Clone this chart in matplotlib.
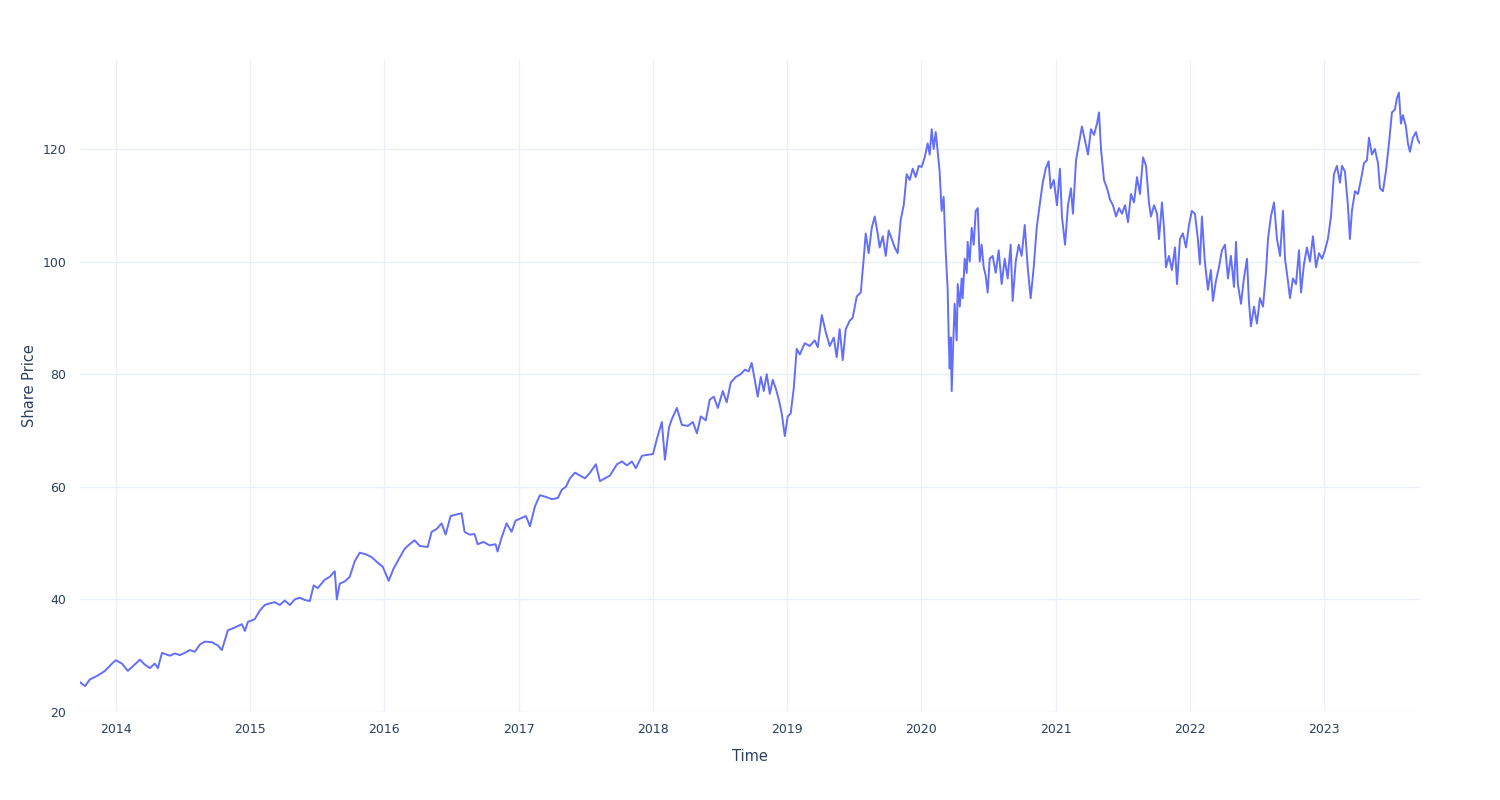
import pandas as pd
import matplotlib
matplotlib.use("Agg")
from matplotlib import pyplot as plt
import matplotlib.dates as mdates

# time as decimal years
years = [
    2013.732, 2013.769, 2013.806, 2013.866, 2013.918, 2013.970, 2014.000, 2014.045, 2014.089, 2014.134,
    2014.179, 2014.216, 2014.253, 2014.290, 2014.313, 2014.343, 2014.402, 2014.439, 2014.477, 2014.521,
    2014.551, 2014.588, 2014.626, 2014.663, 2014.715, 2014.760, 2014.789, 2014.834, 2014.886, 2014.938,
    2014.961, 2014.983, 2015.035, 2015.072, 2015.109, 2015.147, 2015.184, 2015.221, 2015.258, 2015.296,
    2015.333, 2015.370, 2015.407, 2015.445, 2015.474, 2015.504, 2015.556, 2015.593, 2015.631, 2015.646,
    2015.668, 2015.706, 2015.742, 2015.780, 2015.817, 2015.862, 2015.906, 2015.951, 2015.988, 2016.033,
    2016.070, 2016.100, 2016.152, 2016.189, 2016.226, 2016.264, 2016.323, 2016.353, 2016.390, 2016.427,
    2016.457, 2016.494, 2016.524, 2016.576, 2016.598, 2016.635, 2016.673, 2016.695, 2016.740, 2016.784,
    2016.829, 2016.844, 2016.874, 2016.911, 2016.948, 2016.978, 2017.023, 2017.053, 2017.083, 2017.120,
    2017.157, 2017.202, 2017.246, 2017.291, 2017.321, 2017.351, 2017.381, 2017.418, 2017.455, 2017.493,
    2017.530, 2017.574, 2017.604, 2017.641, 2017.679, 2017.731, 2017.768, 2017.805, 2017.842, 2017.872,
    2017.917, 2017.962, 2017.999, 2018.029, 2018.066, 2018.089, 2018.119, 2018.140, 2018.178, 2018.215,
    2018.260, 2018.297, 2018.327, 2018.356, 2018.393, 2018.423, 2018.453, 2018.483, 2018.520, 2018.549,
    2018.579, 2018.616, 2018.654, 2018.684, 2018.713, 2018.735, 2018.758, 2018.780, 2018.803, 2018.825,
    2018.847, 2018.870, 2018.892, 2018.914, 2018.937, 2018.959, 2018.982, 2019.004, 2019.026, 2019.049,
    2019.071, 2019.094, 2019.131, 2019.168, 2019.205, 2019.228, 2019.258, 2019.287, 2019.317, 2019.347,
    2019.369, 2019.391, 2019.414, 2019.436, 2019.466, 2019.488, 2019.518, 2019.548, 2019.570, 2019.585,
    2019.607, 2019.630, 2019.652, 2019.674, 2019.689, 2019.712, 2019.734, 2019.756, 2019.779, 2019.801,
    2019.823, 2019.846, 2019.868, 2019.890, 2019.913, 2019.935, 2019.957, 2019.980, 2020.002, 2020.025,
    2020.047, 2020.062, 2020.077, 2020.092, 2020.107, 2020.122, 2020.136, 2020.151, 2020.166, 2020.181,
    2020.196, 2020.204, 2020.211, 2020.219, 2020.226, 2020.241, 2020.248, 2020.263, 2020.271, 2020.286,
    2020.300, 2020.308, 2020.323, 2020.338, 2020.345, 2020.360, 2020.375, 2020.390, 2020.405, 2020.420,
    2020.435, 2020.449, 2020.464, 2020.479, 2020.494, 2020.509, 2020.531, 2020.554, 2020.576, 2020.598,
    2020.621, 2020.643, 2020.665, 2020.680, 2020.703, 2020.725, 2020.747, 2020.770, 2020.792, 2020.814,
    2020.837, 2020.859, 2020.881, 2020.904, 2020.926, 2020.948, 2020.963, 2020.986, 2021.008, 2021.030,
    2021.045, 2021.068, 2021.090, 2021.112, 2021.127, 2021.150, 2021.172, 2021.194, 2021.217, 2021.239,
    2021.261, 2021.284, 2021.306, 2021.321, 2021.336, 2021.358, 2021.381, 2021.403, 2021.425, 2021.448,
    2021.470, 2021.492, 2021.515, 2021.537, 2021.559, 2021.582, 2021.604, 2021.626, 2021.649, 2021.671,
    2021.693, 2021.708, 2021.731, 2021.753, 2021.768, 2021.790, 2021.805, 2021.820, 2021.842, 2021.864,
    2021.887, 2021.902, 2021.924, 2021.946, 2021.969, 2021.991, 2022.013, 2022.036, 2022.058, 2022.073,
    2022.088, 2022.110, 2022.133, 2022.155, 2022.170, 2022.192, 2022.215, 2022.237, 2022.260, 2022.282,
    2022.304, 2022.327, 2022.342, 2022.356, 2022.379, 2022.401, 2022.424, 2022.438, 2022.453, 2022.476,
    2022.498, 2022.520, 2022.543, 2022.565, 2022.580, 2022.602, 2022.625, 2022.647, 2022.670, 2022.692,
    2022.707, 2022.729, 2022.744, 2022.766, 2022.789, 2022.811, 2022.826, 2022.848, 2022.870, 2022.893,
    2022.915, 2022.938, 2022.960, 2022.983, 2023.005, 2023.027, 2023.050, 2023.072, 2023.094, 2023.117,
    2023.132, 2023.154, 2023.176, 2023.191, 2023.206, 2023.229, 2023.251, 2023.273, 2023.296, 2023.318,
    2023.333, 2023.355, 2023.377, 2023.400, 2023.415, 2023.437, 2023.459, 2023.482, 2023.504, 2023.526,
    2023.541, 2023.556, 2023.571, 2023.586, 2023.608, 2023.623, 2023.638, 2023.660, 2023.683, 2023.698,
    2023.713,
]

price = [
    25.3, 24.6, 25.8, 26.5, 27.3, 28.6, 29.2, 28.6, 27.3, 28.3,
    29.3, 28.4, 27.8, 28.6, 27.8, 30.5, 30.0, 30.4, 30.1, 30.6,
    31.0, 30.7, 32.0, 32.5, 32.4, 31.8, 31.0, 34.5, 35.0, 35.6,
    34.4, 36.0, 36.5, 38.0, 39.0, 39.3, 39.5, 39.0, 39.8, 39.0,
    40.0, 40.3, 39.9, 39.7, 42.5, 42.0, 43.5, 44.0, 45.0, 40.0,
    42.8, 43.2, 44.0, 46.8, 48.3, 48.0, 47.5, 46.5, 45.8, 43.3,
    45.5, 46.8, 49.0, 49.8, 50.5, 49.5, 49.3, 52.0, 52.5, 53.5,
    51.5, 54.8, 55.0, 55.3, 52.0, 51.5, 51.6, 49.8, 50.2, 49.6,
    49.8, 48.5, 51.0, 53.5, 52.0, 54.0, 54.5, 54.8, 53.0, 56.5,
    58.5, 58.2, 57.8, 58.0, 59.5, 60.0, 61.5, 62.5, 62.0, 61.5,
    62.5, 64.0, 61.0, 61.5, 62.0, 64.0, 64.5, 63.8, 64.5, 63.3,
    65.5, 65.7, 65.8, 68.5, 71.5, 64.8, 70.5, 72.0, 74.0, 71.0,
    70.8, 71.5, 69.5, 72.5, 71.8, 75.5, 76.0, 74.0, 77.0, 75.0,
    78.5, 79.5, 80.0, 80.8, 80.5, 82.0, 79.0, 76.0, 79.5, 77.0,
    80.0, 76.5, 79.0, 77.5, 75.5, 73.0, 69.0, 72.5, 73.0, 77.5,
    84.5, 83.5, 85.5, 85.0, 86.0, 84.8, 90.5, 87.5, 85.0, 86.5,
    83.0, 88.0, 82.5, 88.0, 89.5, 90.0, 93.8, 94.5, 100.5, 105.0,
    101.5, 106.0, 108.0, 105.0, 102.5, 104.5, 101.0, 105.5, 104.0, 102.5,
    101.5, 107.5, 110.0, 115.5, 114.5, 116.5, 115.0, 117.0, 116.8, 118.5,
    121.0, 119.0, 123.5, 120.0, 123.0, 119.5, 116.0, 109.0, 111.5, 102.0,
    95.0, 86.0, 81.0, 86.5, 77.0, 88.0, 92.5, 86.0, 96.0, 92.0,
    97.0, 93.5, 100.5, 98.0, 103.5, 100.0, 106.0, 103.0, 109.0, 109.5,
    100.0, 103.0, 99.0, 97.5, 94.5, 100.5, 101.0, 98.0, 102.0, 96.0,
    100.5, 97.0, 103.0, 93.0, 100.0, 103.0, 101.0, 106.5, 99.0, 93.5,
    99.0, 106.0, 110.0, 114.0, 116.5, 117.8, 113.0, 114.5, 110.0, 116.5,
    108.0, 103.0, 110.0, 113.0, 108.5, 118.0, 121.0, 124.0, 121.5, 119.0,
    123.5, 122.5, 124.5, 126.5, 120.0, 114.5, 113.0, 111.0, 110.0, 108.0,
    109.5, 108.5, 110.0, 107.0, 112.0, 110.5, 115.0, 112.0, 118.5, 117.0,
    110.5, 108.0, 110.0, 108.5, 104.0, 110.5, 106.0, 99.0, 101.0, 98.5,
    102.5, 96.0, 104.0, 105.0, 102.5, 106.5, 109.0, 108.5, 104.0, 99.5,
    108.0, 100.0, 95.0, 98.5, 93.0, 96.5, 99.0, 102.0, 103.0, 97.0,
    101.0, 95.5, 103.5, 96.0, 92.5, 97.0, 100.5, 93.0, 88.5, 92.0,
    89.0, 93.5, 92.0, 98.0, 104.0, 108.0, 110.5, 104.0, 101.0, 109.0,
    100.5, 96.5, 93.5, 97.0, 96.0, 102.0, 94.5, 99.5, 102.5, 100.0,
    104.5, 99.0, 101.5, 100.5, 102.0, 104.0, 108.0, 115.5, 117.0, 114.0,
    117.0, 116.0, 110.0, 104.0, 109.0, 112.5, 112.0, 114.5, 117.5, 118.0,
    122.0, 119.0, 120.0, 117.5, 113.0, 112.5, 116.0, 121.0, 126.5, 127.0,
    129.0, 130.0, 124.5, 126.0, 124.0, 121.0, 119.5, 122.0, 123.0, 121.5,
    121.0,
]

dates = [pd.Timestamp(int(y), 1, 1) + pd.Timedelta(days=(y % 1) * 365.25) for y in years]

plt.rcParams["font.family"] = ["DejaVu Sans"]
fig = plt.figure(figsize=(15, 8), dpi=100)
ax = fig.add_axes([80 / 1500, 88 / 800, 1340 / 1500, 652 / 800])

ax.plot(dates, price, color="#636EFA", linewidth=1.4)

ax.set_xlim(dates[0], dates[-1])
ax.set_ylim(20, 135.8)
ax.set_yticks([20, 40, 60, 80, 100, 120])
ax.xaxis.set_major_locator(mdates.YearLocator())
ax.xaxis.set_major_formatter(mdates.DateFormatter("%Y"))

ax.grid(True, color="#EBF0F8", linewidth=1)
ax.set_axisbelow(True)
for s in ax.spines.values():
    s.set_visible(False)
ax.tick_params(length=0, labelsize=9, labelcolor="#2a3f5f", pad=8)
ax.tick_params(axis="y", pad=10)

ax.set_xlabel("Time", fontsize=10.5, color="#2a3f5f", labelpad=9)
ax.set_ylabel("Share Price", fontsize=10.5, color="#2a3f5f", labelpad=4)

fig.savefig("out.png", dpi=100, facecolor="white")
